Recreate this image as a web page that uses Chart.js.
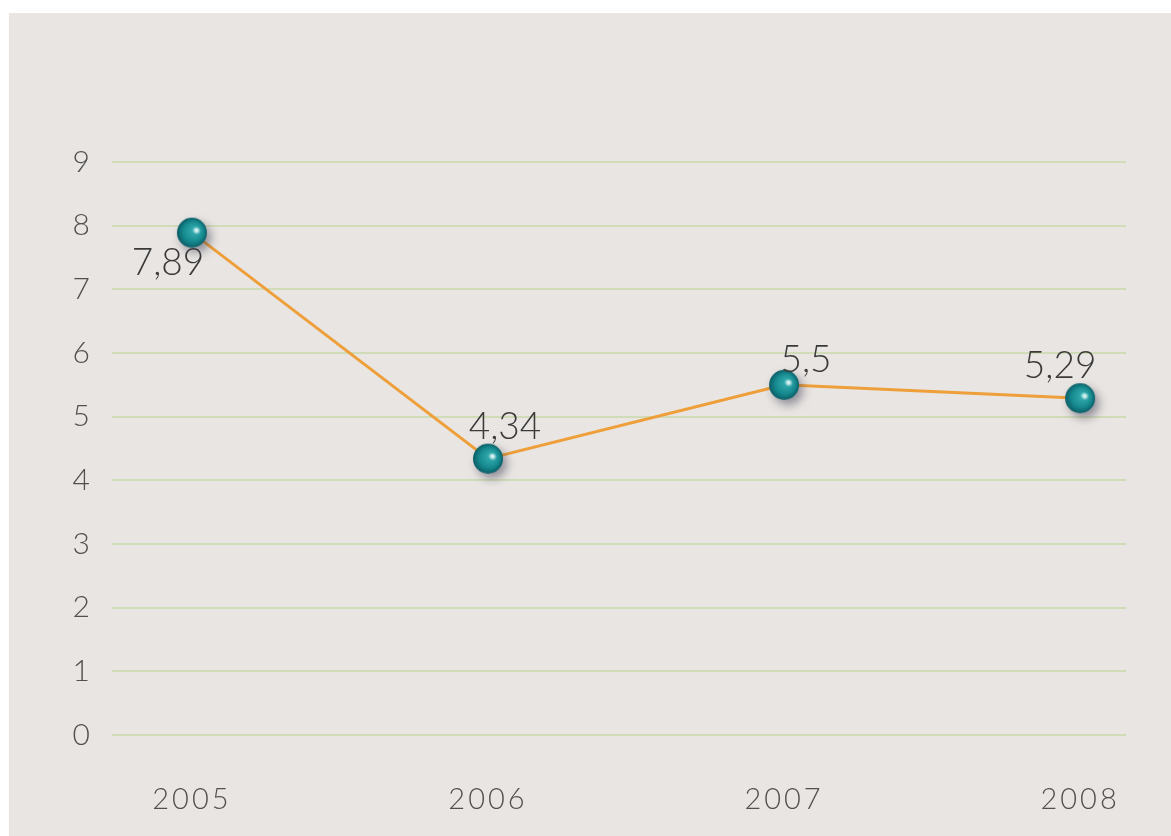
<!DOCTYPE html>
<html><head><meta charset="utf-8">
<script src="https://cdn.jsdelivr.net/npm/chart.js@4"></script>
<style>
html,body{margin:0;padding:0;background:#fff;}
#wrap{position:absolute;left:0;top:0;width:1171px;height:836px;overflow:hidden;}
#panel{position:absolute;left:9px;top:13px;width:1162px;height:823px;background:#e9e5e2;}
canvas{position:absolute;left:0;top:0;}
</style></head><body>
<div id="wrap"><div id="panel"></div><canvas id="c" width="1171" height="836"></canvas></div>
<script>
const years = [2005, 2006, 2007, 2008];
const values = [7.89, 4.34, 5.5, 5.29];
const valueLabels = ['7,89', '4,34', '5,5', '5,29'];
const yTickValues = [0, 1, 2, 3, 4, 5, 6, 7, 8, 9];

const FONT = "Lato, 'Noto Sans', 'DejaVu Sans', sans-serif";

// sphere marker
function makeSphere() {
  const s = 64, c = s / 2, r = 15;
  const cv = document.createElement('canvas');
  cv.width = s; cv.height = s;
  const g = cv.getContext('2d');
  g.save();
  g.shadowColor = 'rgba(70,70,90,0.55)';
  g.shadowBlur = 10;
  g.shadowOffsetX = 4;
  g.shadowOffsetY = 5;
  const grad = g.createRadialGradient(c + 4, c - 3, 1, c, c, r);
  grad.addColorStop(0, '#8ad8d6');
  grad.addColorStop(0.18, '#2fa6aa');
  grad.addColorStop(0.65, '#168a8f');
  grad.addColorStop(1, '#0b5d66');
  g.fillStyle = grad;
  g.beginPath(); g.arc(c, c, r, 0, Math.PI * 2); g.fill();
  g.restore();
  const hl = g.createRadialGradient(c + 5, c - 2, 0, c + 5, c - 2, 4);
  hl.addColorStop(0, 'rgba(255,255,255,0.9)');
  hl.addColorStop(1, 'rgba(255,255,255,0)');
  g.fillStyle = hl;
  g.beginPath(); g.arc(c + 5, c - 2, 4, 0, Math.PI * 2); g.fill();
  return cv;
}
const sphere = makeSphere();

const labelOffsets = [[-24, 30], [17, -32], [22, -25], [-20, -32]];

const valueLabelPlugin = {
  id: 'valueLabels',
  beforeDraw(chart) { chart.ctx.letterSpacing = '3px'; },
  afterDatasetsDraw(chart) {
    const ctx = chart.ctx;
    const meta = chart.getDatasetMeta(0);
    ctx.save();
    ctx.letterSpacing = '0px';
    ctx.font = "300 37px " + FONT;
    ctx.fillStyle = '#3a3a3a';
    ctx.textAlign = 'center';
    ctx.textBaseline = 'middle';
    meta.data.forEach((pt, i) => {
      const o = labelOffsets[i];
      ctx.fillText(valueLabels[i], pt.x + o[0], pt.y + o[1]);
    });
    ctx.restore();
  }
};

new Chart(document.getElementById('c'), {
  type: 'line',
  data: {
    datasets: [{
      data: years.map((y, i) => ({ x: y, y: values[i] })),
      borderColor: '#ee9f3a',
      borderWidth: 3,
      pointStyle: sphere,
      pointRadius: 15,
      tension: 0,
      fill: false
    }]
  },
  options: {
    responsive: false,
    animation: false,
    devicePixelRatio: 1,
    layout: { padding: { left: 0, top: 162, right: 45, bottom: 0 } },
    plugins: { legend: { display: false }, tooltip: { enabled: false } },
    scales: {
      x: {
        type: 'linear',
        min: 2004.73,
        max: 2008.155,
        afterBuildTicks: s => { s.ticks = years.map(v => ({ value: v })); },
        afterFit: s => { s.height = 101; },
        grid: { display: false },
        border: { display: false },
        ticks: {
          callback: v => String(v),
          font: { family: FONT, size: 29, weight: 300 },
          color: '#505050',
          padding: 39,
          maxRotation: 0,
          autoSkip: false
        }
      },
      y: {
        min: 0,
        max: 9,
        afterBuildTicks: s => { s.ticks = yTickValues.map(v => ({ value: v })); },
        afterFit: s => { s.width = 112; },
        grid: { color: '#d0dbb8', lineWidth: 2, drawTicks: false },
        border: { display: false },
        ticks: {
          font: { family: FONT, size: 30, weight: 300 },
          color: '#505050',
          padding: 19
        }
      }
    }
  },
  plugins: [valueLabelPlugin]
});
</script>
</body></html>
